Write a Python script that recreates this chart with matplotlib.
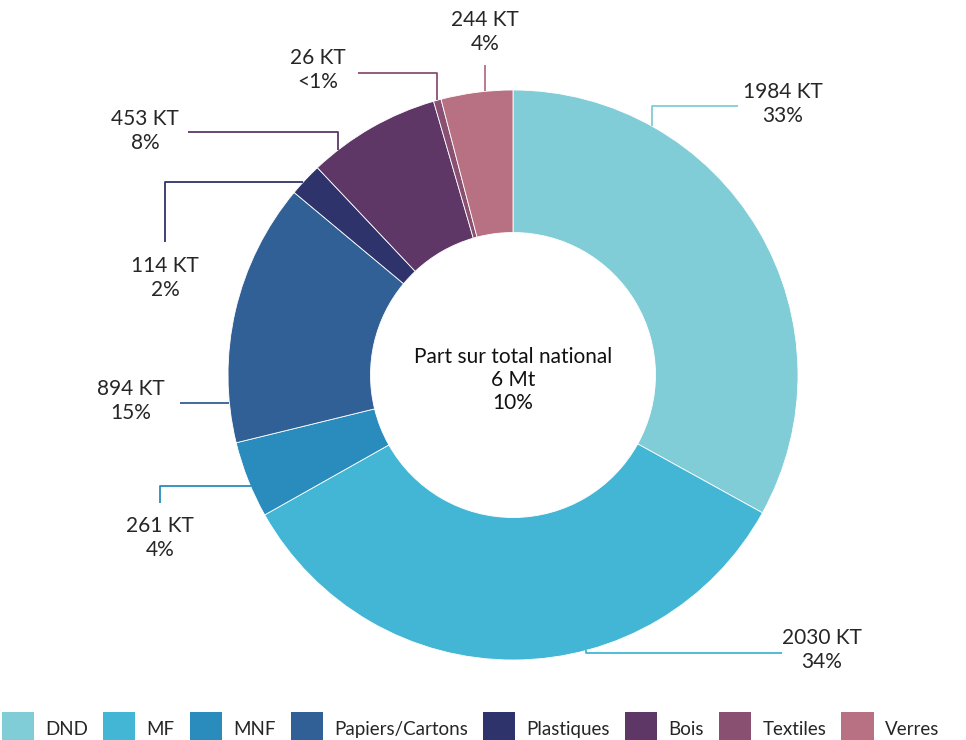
import numpy as np
import matplotlib
matplotlib.use("Agg")
import matplotlib.pyplot as plt
from matplotlib.patches import Patch

categories = ["DND", "MF", "MNF", "Papiers/Cartons", "Plastiques", "Bois", "Textiles", "Verres"]
values_kt = [1984, 2030, 261, 894, 114, 453, 26, 244]
colors = ["#80CCD7", "#42B6D4", "#2A8BBD", "#316096", "#2E336B", "#5E3766", "#8A5071", "#B87083"]
center_lines = ["Part sur total national", "6 Mt", "10%"]

plt.rcParams["font.family"] = ["Lato", "DejaVu Sans"]
TEXT = "#262626"

W, H = 966, 740
CX, CY, R = 513, 375, 285   # pie centre / radius, pixel coords (y down)


def py(y):
    # pixel y (down) -> data y (up)
    return H - y


def edge_x(y, side):
    return CX + side * np.sqrt(R ** 2 - (y - CY) ** 2)


def edge_y(x, side):
    return CY + side * np.sqrt(R ** 2 - (x - CX) ** 2)


# label layout: text position, elbow points, last leg to the ring
# ("v", x, side) -> vertical leg at x ; ("h", y, side) -> horizontal leg at y
layout = [
    ((783, 104), [(738, 106), (652, 106)], ("v", 652, -1)),
    ((822, 650), [(782, 653), (586, 653)], ("v", 586, 1)),
    ((160, 538), [(160, 503), (160, 486)], ("h", 486, -1)),
    ((131, 401), [(180, 403)], ("h", 403, -1)),
    ((165, 278), [(165, 242), (165, 182)], ("h", 182, -1)),
    ((145, 131), [(188, 132), (338, 132)], ("v", 338, -1)),
    ((318, 70), [(358, 73), (437, 73)], ("v", 437, -1)),
    ((485, 32), [(485, 65)], ("v", 485, -1)),
]

fig = plt.figure(figsize=(W / 100, H / 100), dpi=100)
ax = fig.add_axes([0, 0, 1, 1])

ax.pie(values_kt, colors=colors, startangle=90, counterclock=False,
       center=(CX, py(CY)), radius=R,
       wedgeprops=dict(width=R * 0.5, edgecolor="white", linewidth=0.6))

# pie() resets the limits, so set them afterwards
ax.set_xlim(0, W)
ax.set_ylim(0, H)
ax.set_aspect("equal")
ax.axis("off")

total = sum(values_kt)
for val, col, (txt_xy, pts, last) in zip(values_kt, colors, layout):
    pct = 100 * val / total
    pct_txt = "<1%" if pct < 1 else f"{pct:.0f}%"
    kind, pos, side = last
    if kind == "v":
        end = (pos, edge_y(pos, side))
    else:
        end = (edge_x(pos, side), pos)
    path = pts + [end]
    xs = [p[0] for p in path]
    ys = [py(p[1]) for p in path]
    ax.plot(xs, ys, color=col, lw=1.3, solid_capstyle="butt", zorder=3)
    ax.text(txt_xy[0], py(txt_xy[1]), f"{val} KT\n{pct_txt}", ha="center", va="center",
            fontsize=15, color=TEXT, linespacing=1.2)

ax.text(CX, py(380), "\n".join(center_lines), ha="center", va="center",
        fontsize=15, color="#111111", linespacing=1.2)

handles = [Patch(facecolor=c, edgecolor="none") for c in colors]
fig.legend(handles, categories, loc="lower center", bbox_to_anchor=(0.487, -0.032), ncol=8,
           frameon=False, fontsize=13.5, handlelength=1.72, handleheight=2.5,
           handletextpad=0.6, columnspacing=0.8, labelcolor=TEXT)

fig.savefig("out.png", dpi=100)
